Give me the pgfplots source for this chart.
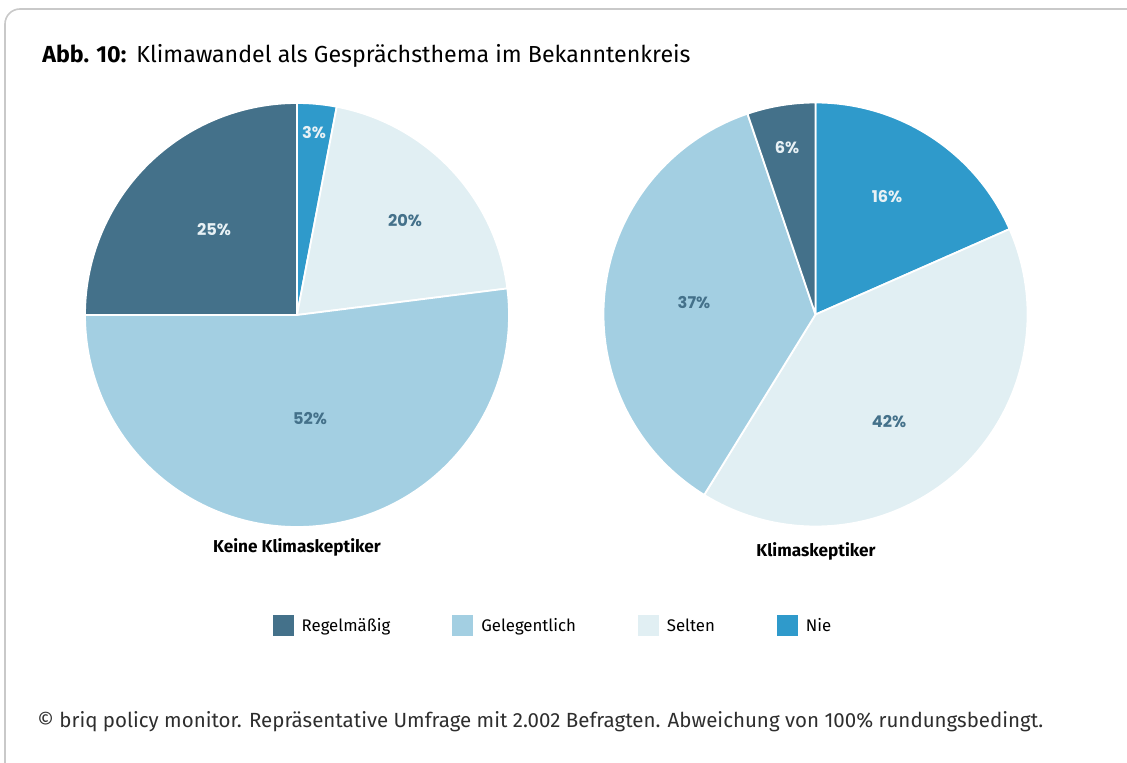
\documentclass[border=0pt]{standalone}
\usepackage{fontspec}
\setmainfont{Fira Sans}
\newfontfamily\pief{Poppins}
\usepackage{xcolor}
\usepackage{pgfplots}
\usepackage{pgfplotstable}
\pgfplotsset{compat=1.18}

\definecolor{cReg}{HTML}{44718A}
\definecolor{cGel}{HTML}{A3CFE2}
\definecolor{cSel}{HTML}{E1EFF3}
\definecolor{cNie}{HTML}{2F9ACB}
\definecolor{cLt}{HTML}{E8F1F5}
\definecolor{cDk}{HTML}{44718A}
\definecolor{cFrame}{HTML}{C9C9C9}
\definecolor{cFoot}{HTML}{2E2E2E}

% wedges clockwise from 12 o'clock; share = wedge size as drawn, lab = printed value
% lx, ly = label position (px, y up)
\pgfplotstableread{
share lab lx  ly  col  tcol
3     3   314 629 cNie cLt
20    20  405 541 cSel cDk
52    52  310 343 cGel cDk
25    25  214 532 cReg cLt
}\keine
\pgfplotstableread{
share lab lx  ly  col  tcol
18.4  16  887 565 cNie cLt
40.4  42  889 340 cSel cDk
36.0  37  694 459 cGel cDk
5.2   6   787 614 cReg cLt
}\skept

% #1 table, #2 cx, #3 cy, #4 radius (px)
\newcommand\drawpie[4]{%
  \pgfplotstablegetrowsof{#1}%
  \pgfmathtruncatemacro\nrows{\pgfplotsretval-1}%
  \pgfmathsetlengthmacro\rad{#4*0.5pt}%
  \gdef\startang{90}%
  \foreach \i in {0,...,\nrows}{%
    \pgfplotstablegetelem{\i}{share}\of{#1}\let\sh\pgfplotsretval
    \pgfplotstablegetelem{\i}{col}\of{#1}\let\cl\pgfplotsretval
    \pgfmathsetmacro\endang{\startang-3.6*\sh}%
    \fill[\cl, draw=white, line width=0.9pt, line join=round]
      (axis cs:#2,#3) -- ++(\startang:\rad)
      arc[start angle=\startang, end angle=\endang, radius=\rad] -- cycle;
    \global\let\startang\endang
  }%
  \foreach \i in {0,...,\nrows}{%
    \pgfplotstablegetelem{\i}{lab}\of{#1}\let\lb\pgfplotsretval
    \pgfplotstablegetelem{\i}{lx}\of{#1}\let\lx\pgfplotsretval
    \pgfplotstablegetelem{\i}{ly}\of{#1}\let\ly\pgfplotsretval
    \pgfplotstablegetelem{\i}{tcol}\of{#1}\let\tc\pgfplotsretval
    \node[text=\tc, font=\pief\bfseries\fontsize{8.1}{9}\selectfont]
      at (axis cs:\lx,\ly) {\lb\%};
  }%
}

\pgfplotsset{
  sq/.style={legend image code/.code={%
    \fill[##1, draw=none] (0pt,-5.25pt) rectangle (10.5pt,5.25pt);
    \path[draw=none, fill=none] (10.5pt,0pt) -- (12.5pt,0pt);}},
}

\begin{document}
\begin{tikzpicture}
\begin{axis}[
  x=0.5pt, y=0.5pt,
  xmin=0, xmax=1127, ymin=0, ymax=762,
  hide axis, clip=false,
  legend columns=4,
  legend style={draw=none, fill=none, at={(axis cs:554,137)}, anchor=center,
    font=\fontsize{8.4}{10}\selectfont,
    nodes={text height=1.6ex, text depth=0.45ex},
    /tikz/every even column/.append style={column sep=29pt}},
]
\addlegendimage{sq, fill=cReg}\addlegendentry{Regelmäßig}
\addlegendimage{sq, fill=cGel}\addlegendentry{Gelegentlich}
\addlegendimage{sq, fill=cSel}\addlegendentry{Selten}
\addlegendimage{sq, fill=cNie}\addlegendentry{Nie}

\pgfplotsextra{%
  \draw[cFrame, line width=0.8pt]
    (axis cs:1145,753) -- (axis cs:20,753)
    arc[start angle=90, end angle=180, radius=7.5pt] -- (axis cs:5,-20);
  \drawpie{\keine}{297}{447}{212}%
  \drawpie{\skept}{815.5}{447.5}{212}%
}

\node[anchor=base west, inner sep=0pt, font=\fontsize{11.6}{13}\selectfont]
  at (axis cs:42,699) {\textbf{Abb. 10:}\hspace{5pt}Klimawandel als Gesprächsthema im Bekanntenkreis};
\node[font=\bfseries\fontsize{8.6}{10}\selectfont] at (axis cs:297,215) {Keine Klimaskeptiker};
\node[font=\bfseries\fontsize{8.6}{10}\selectfont] at (axis cs:816,211) {Klimaskeptiker};
\node[anchor=west, text=cFoot, font=\fontsize{10.25}{12}\selectfont, inner sep=0pt]
  at (axis cs:37,40) {© briq policy monitor. Repräsentative Umfrage mit 2.002 Befragten. Abweichung von 100\% rundungsbedingt.};
\end{axis}
\pgfresetboundingbox
\path[use as bounding box] (0,0) rectangle (563.5pt,381pt);
\end{tikzpicture}
\end{document}
